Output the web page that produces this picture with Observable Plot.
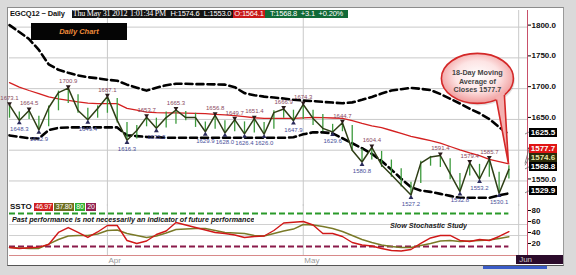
<!DOCTYPE html>
<html><head><meta charset="utf-8">
<script src="https://cdn.jsdelivr.net/npm/d3@7"></script>
<script src="https://cdn.jsdelivr.net/npm/@observablehq/plot@0.6"></script>
<style>
html,body{margin:0;padding:0;background:#fff;}
#wrap{position:relative;width:576px;height:275px;overflow:hidden;background:#dadada;font-family:"Liberation Sans",Arial,sans-serif;}
#inner{position:absolute;left:7px;top:7px;width:555px;height:257px;background:#fff;border-left:1px solid #8c8c8c;border-top:1px solid #8c8c8c;border-right:1px solid #9a9a9a;border-bottom:1px solid #555;}
#wrap svg{position:absolute;left:0;overflow:visible;}
.ov{position:absolute;white-space:nowrap;overflow:hidden;}
.box{display:inline-block;height:8px;line-height:8px;font-size:7.5px;text-align:center;color:#fff;overflow:hidden;vertical-align:top;letter-spacing:-0.2px;}
</style></head><body><div id="wrap"><div id="inner"></div></div>
<script>
// ---- data ----
const highVals = [1673.1,1662,1664.5,1655,1672,1696,1700.9,1690,1668,1672,
 1687.1,1684,1645,1640,1653.7,1652,1662,1665.3,1663,1660,
 1646,1656.8,1648,1649.7,1646,1651.4,1645,1664,1666.9,1665,
 1674.3,1665,1658,1642,1644.7,1640,1602,1604.4,1598,1584,
 1570,1548,1582,1590,1591.4,1586,1562,1579.4,1577,1585.7,
 1564,1574.6];
const lowVals = [1652,1648.3,1650,1632.9,1638,1664,1676,1660,1649.4,1652,
 1660,1644,1616.3,1618,1638,1635.5,1636,1642,1648,1637,
 1629.9,1634,1628,1630,1626.4,1628,1626.0,1634,1652,1647.9,
 1650,1640,1630,1629.6,1630,1598,1580.8,1584,1572,1556,
 1540,1527.2,1546,1574,1572,1552,1532.8,1558,1553.2,1556,
 1530.1,1553.0];
const closeVals = [1673.1,1648.3,1664.5,1632.9,1669,1693.5,1700.9,1664.5,1649.4,1667.7,
 1687.1,1648.4,1616.3,1632,1653.7,1635.5,1653,1665.3,1653,1653,
 1629.9,1656.8,1628,1649.7,1626.4,1651.4,1626.0,1661,1666.9,1647.9,
 1674.3,1651.6,1635.5,1629.6,1644.7,1600,1580.8,1604.4,1576,1560,
 1543.5,1527.2,1579,1589,1591.4,1562,1532.8,1579.4,1553.2,1585.7,
 1530.1,1568.8];
const ma18 = [1709.7,1702.5,1697,1692,1686.5,1683.5,1681,1678.5,1676.5,1675.8,
 1675.8,1675.8,1668,1665,1662,1661,1660.8,1660.5,1660.2,1659.8,
 1659.4,1658.3,1657.3,1656.3,1654.5,1652.7,1651.6,1651.6,1651.6,1651.8,
 1652.5,1653.2,1653,1652.3,1651.7,1648,1643.5,1639.5,1636.5,1632,
 1627.5,1622.5,1619,1615.5,1611.5,1606,1600.5,1595.5,1591,1585,
 1581.5,1577.7];
const upperBand = [1803.2,1792,1780.6,1762.9,1739.5,1730.6,1725.8,1721.5,1718.5,1716.8,
 1714.5,1712.9,1706.5,1701.6,1696.8,1701.6,1705.6,1708,1708,1707.3,
 1707.3,1707,1706.5,1702.4,1692.7,1689.4,1687,1685.5,1683.9,1681.9,
 1680.6,1679.7,1678.5,1677.4,1676.3,1677.7,1681.8,1686.6,1692,1697,
 1699,1701.3,1699.7,1697.6,1691.3,1683.5,1675.8,1667.4,1660,1650.6,
 1637.4,1625.5];
const lowerBand = [1624,1621.6,1619.4,1619,1632.7,1636.3,1637,1637,1637,1637,
 1637,1637,1624.2,1622.9,1621.5,1621,1620.2,1620.2,1620.2,1620.2,
 1620.2,1620.2,1620.2,1620.2,1620.2,1620.2,1620.2,1620.2,1620.2,1621,
 1625.8,1629,1629,1627.4,1619.4,1611.3,1603.2,1594.2,1582.3,1568.5,
 1553.7,1540,1534.5,1532.3,1529,1525.8,1522.6,1522.6,1522.6,1522.6,
 1526.6,1529.9];
const stochK = [18.2,16.4,17.6,18.9,23.6,45.5,54.5,45.5,36.4,46.4,
 58.2,58.2,30.9,25.5,30,41.8,48.2,63.6,59.1,54.5,
 50,45.5,43.6,40.9,36.4,38.2,39.1,49.1,62.7,64.2,
 65.5,59.1,43.6,43.6,38.2,27.3,22.7,20.9,16.4,12.7,
 11.8,14.5,25.5,35.5,40,40,30.9,29.1,32.7,30.9,
 38.2,46.97];
const stochD = [18.2,17.3,16.4,16.4,24.5,32.7,39.1,40,40,42.7,
 49.1,50,43.6,40,36.4,39.1,44.5,50.9,51.8,52.7,
 52.7,49.1,45.5,44.5,43.6,40,39.1,43.6,48.2,51.8,
 60,59.1,56.4,52.7,47.3,40,32.7,27.3,22.7,20,
 18.2,18.2,21.8,25.5,30,30.9,29.1,30,30.9,31.8,
 34.5,37.8];
const highPivots = [0,2,6,10,14,17,21,23,25,28,30,34,37,44,47,49];
const lowPivots = [1,3,8,12,15,20,22,24,26,29,33,36,41,46,48,50];
const monthTicks = [10, 30, 52];
const monthNames = ["Apr", "May", "Jun"];
const priceTicks = [1550, 1600, 1650, 1700, 1750, 1800];
const stochTicks = [20, 40, 60, 80];
const stochGrid = [40, 60];
const stochLevels = [80, 20];
const symbolText = "EGCQ12 ~ Daily";
const quoteDate = "Thu May 31 2012";
const quoteTime = "1:01:34 PM";
const quoteOpen = 1564.1;
const quoteChange = 3.1;
const quotePct = 0.20;
const maPeriod = 18;

// ---- build ----
const rows = closeVals.map((c, i) => ({i, close: c, high: highVals[i], low: lowVals[i], ma: ma18[i], ub: upperBand[i], lb: lowerBand[i], k: stochK[i], d: stochD[i]}));
const last = rows.length - 1;
const xDomain = [0, 52.9];
const fmt = d3.format(".1f");
const wrap = document.getElementById("wrap");
const font = "Liberation Sans, Arial, sans-serif";

const priceTop = 10;
const price = Plot.plot({
  width: 576, height: 196, marginTop: 0, marginBottom: 0, marginLeft: 9, marginRight: 49,
  x: {domain: xDomain, axis: null},
  y: {domain: [1508.5, 1827], axis: null},
  style: {background: "transparent", fontFamily: font},
  marks: [
    Plot.gridY(priceTicks, {stroke: "#c9c9c9", strokeOpacity: 1}),
    Plot.gridX(monthTicks, {stroke: "#c9c9c9", strokeOpacity: 1}),
    Plot.ruleX([xDomain[1]], {stroke: "#c8506a", strokeWidth: 1}),
    Plot.axisY(priceTicks, {anchor: "right", tickSize: 3, tickPadding: 1, tickFormat: fmt, fontSize: 8, fontWeight: "bold", fill: "#111", dy: -2, label: null}),
    Plot.line(rows, {x: "i", y: "ub", stroke: "#000", strokeWidth: 2.6, strokeDasharray: "7,4"}),
    Plot.line(rows, {x: "i", y: "lb", stroke: "#000", strokeWidth: 2.6, strokeDasharray: "7,4"}),
    Plot.line(rows, {x: "i", y: "ma", stroke: "#d42020", strokeWidth: 1.3}),
    Plot.ruleX(rows, {x: "i", y1: "low", y2: "high", stroke: "#3c9a3c", strokeWidth: 1.3}),
    Plot.line(rows, {x: "i", y: "close", stroke: "#2f3e16", strokeWidth: 1.5}),
    Plot.dot(highPivots, {x: d => d, y: d => highVals[d], symbol: "triangle", rotate: 180, r: 1.8, fill: "#2a1a1a", dy: -1.5}),
    Plot.dot(lowPivots, {x: d => d, y: d => lowVals[d], symbol: "triangle", r: 1.8, fill: "#2a2a5a", dy: 2.5}),
    Plot.text(highPivots, {x: d => d, y: d => highVals[d], text: d => fmt(highVals[d]), dy: -7, fontSize: 6, fill: "#8a4a62"}),
    Plot.text(lowPivots, {x: d => d, y: d => lowVals[d], text: d => fmt(lowVals[d]), dy: 9, fontSize: 6, fill: "#4a4f9a"})
  ]
});
price.style.top = priceTop + "px";
wrap.appendChild(price);

const stochTop = 204;
const stoch = Plot.plot({
  width: 576, height: 64, marginTop: 0, marginBottom: 13, marginLeft: 9, marginRight: 49,
  x: {domain: xDomain, axis: null},
  y: {domain: [3.6, 96.4], axis: null},
  style: {background: "transparent", fontFamily: font},
  marks: [
    Plot.gridY(stochGrid, {stroke: "#d0d0d0", strokeOpacity: 1}),
    Plot.gridX(monthTicks, {stroke: "#c9c9c9", strokeOpacity: 1}),
    Plot.ruleX([xDomain[1]], {stroke: "#c8506a", strokeWidth: 1}),
    Plot.ruleY([3.6], {stroke: "#d88a8a", strokeWidth: 1}),
    Plot.axisY(stochTicks, {anchor: "right", tickSize: 3, tickPadding: 1, fontSize: 8, fontWeight: "bold", fill: "#111", dy: -3, label: null}),
    Plot.axisX(monthTicks.slice(0, 2), {anchor: "bottom", tickSize: 0, tickPadding: 2, tickFormat: d => monthNames[monthTicks.indexOf(d)], textAnchor: "start", dx: 1, fill: "#9a9a9a", fontSize: 8, label: null}),
    Plot.ruleY([stochLevels[0]], {x1: 0, x2: last, stroke: "#2a9a2a", strokeWidth: 2, strokeDasharray: "6,3"}),
    Plot.ruleY([stochLevels[1]], {x1: 0, x2: last, stroke: "#8a1a4a", strokeWidth: 2, strokeDasharray: "6,3"}),
    Plot.line(rows, {x: "i", y: "d", stroke: "#7a7a28", strokeWidth: 1.4}),
    Plot.line(rows, {x: "i", y: "k", stroke: "#d01818", strokeWidth: 1.4})
  ]
});
stoch.style.top = stochTop + "px";
wrap.appendChild(stoch);

const px = v => price.scale("x").apply(v);
const py = v => price.scale("y").apply(v) + priceTop;

// ---- overlays ----
function div(cls, css, html) { const e = document.createElement("div"); e.className = cls; Object.assign(e.style, css); if (html != null) e.innerHTML = html; wrap.appendChild(e); return e; }

// header
const hdr = div("ov", {left: "10px", top: "10px", height: "9px", fontSize: "8px"});
const hs = (txt, w, bg, extra) => `<span class="box" style="width:${w}px;background:${bg};${extra||""}">${txt}</span>`;
hdr.innerHTML =
  `<span style="display:inline-block;width:62px;font-weight:bold;font-size:7.5px;letter-spacing:-0.15px;line-height:8px;color:#111;vertical-align:top">${symbolText}</span>` +
  hs(quoteDate, 56, "#141414", "font-family:'Liberation Serif',serif;font-size:8px") +
  hs(quoteTime, 40, "#141414", "font-family:'Liberation Serif',serif;font-size:8px") +
  hs("H:" + fmt(highVals[last]), 34, "#141414") +
  hs("L:" + fmt(lowVals[last]), 31, "#141414") +
  hs("O:" + fmt(quoteOpen), 32, "#c81818") +
  hs("T:" + fmt(closeVals[last]) + "&nbsp;&nbsp;+" + fmt(quoteChange) + "&nbsp;&nbsp;+" + quotePct.toFixed(2) + "%", 83, "#116a38");

// Daily chart box
div("ov", {left: "31px", top: "23px", width: "96px", height: "17px", background: "#050505", color: "#ef8a3a", fontWeight: "bold", fontStyle: "italic", fontSize: "7.5px", lineHeight: "17px", textAlign: "center"}, "Daily Chart");

// SSTO
const ss = div("ov", {left: "10px", top: "203px", height: "9px"});
ss.innerHTML = `<span style="display:inline-block;width:24px;font-weight:bold;font-size:8px;line-height:8px;color:#111;vertical-align:top">SSTO</span>` +
  hs(stochK[last].toFixed(2), 19, "#d02020", "font-size:7px") + `<span style="display:inline-block;width:1px"></span>` +
  hs(stochD[last].toFixed(2), 20, "#6e6e1e", "font-size:7px") + `<span style="display:inline-block;width:1px"></span>` +
  hs(String(stochLevels[0]), 10, "#30b030", "font-size:7px") + `<span style="display:inline-block;width:1px"></span>` +
  hs(String(stochLevels[1]), 10, "#902050", "font-size:7px");

div("ov", {left: "12px", top: "215px", fontSize: "7.2px", fontWeight: "bold", fontStyle: "italic", color: "#111"}, "Past performance is not necessarily an indicator of future performance");
div("ov", {left: "390px", top: "221px", fontSize: "7.2px", fontWeight: "bold", fontStyle: "italic", color: "#222"}, "Slow Stochastic Study");

// Jun box
const junX = px(monthTicks[2]);
div("ov", {left: (junX - 2) + "px", top: "255px", width: (563 - junX + 2) + "px", height: "9px", background: "#2b0b2b", color: "#c8c8c8", fontSize: "8px", lineHeight: "9px", paddingLeft: "3px", boxSizing: "border-box"}, monthNames[2]);

// bottom scrollbar
div("ov", {left: "483px", top: "266px", width: "64px", height: "3px", background: "#3a5cc8"});

// value boxes on right axis
const vboxes = [
  {v: upperBand[last], bg: "#000", fg: "#fff"},
  {v: ma18[last], bg: "#e01414", fg: "#fff"},
  {v: highVals[last], bg: "#2c2c0a", fg: "#e8e8a8"},
  {v: closeVals[last], bg: "#000", fg: "#fff"},
  {v: lowerBand[last], bg: "#000", fg: "#fff"}
].sort((a, b) => a.v - b.v);
let prevY = Infinity;
const ov = d3.select(wrap).append("svg").attr("width", 576).attr("height", 275).style("top", "0px").style("pointer-events", "none");
const axisX = px(xDomain[1]);
for (const b of vboxes) {
  b.ty = py(b.v);
  b.y = Math.min(b.ty, prevY - 9);
  prevY = b.y;
  const yc = b.y - 2;
  ov.append("line").attr("x1", axisX - 2).attr("y1", b.ty).attr("x2", axisX + 2).attr("y2", yc).attr("stroke", "#666").attr("stroke-width", 0.8);
  div("ov", {left: (axisX + 2) + "px", top: (yc - 4.5) + "px", width: "28px", height: "9px", background: b.bg, color: b.fg, fontSize: "8px", fontWeight: "bold", lineHeight: "9px", textAlign: "center"}, fmt(b.v));
}

// callout bubble
const tipX = px(last), tipY = py(ma18[last]);
const cx = tipX - 31, cy = tipY - 85, rx = 36, ry = 25;
const defs = ov.append("defs");
const g = defs.append("radialGradient").attr("id", "bub").attr("cx", "50%").attr("cy", "45%").attr("r", "55%");
g.append("stop").attr("offset", "0%").attr("stop-color", "#ffffff");
g.append("stop").attr("offset", "55%").attr("stop-color", "#fde4e4");
g.append("stop").attr("offset", "100%").attr("stop-color", "#f09a9a");
const a1 = Math.acos(19 / rx), a2 = Math.acos(27 / rx);
const b1 = [cx + rx * Math.cos(a1), cy + ry * Math.sin(a1)], b2 = [cx + rx * Math.cos(a2), cy + ry * Math.sin(a2)];
ov.append("ellipse").attr("cx", cx + 1.5).attr("cy", cy + 2).attr("rx", rx).attr("ry", ry).attr("fill", "#000").attr("opacity", 0.12);
ov.append("ellipse").attr("cx", cx).attr("cy", cy).attr("rx", rx).attr("ry", ry).attr("fill", "url(#bub)").attr("stroke", "#d42828").attr("stroke-width", 1.6);
ov.append("path").attr("d", `M${b1[0] - 1},${b1[1] - 3}L${tipX},${tipY}L${b2[0]},${b2[1] - 3}Z`).attr("fill", "#f4b0b0");
ov.append("path").attr("d", `M${b1[0]},${b1[1]}L${tipX},${tipY}L${b2[0]},${b2[1]}`).attr("fill", "none").attr("stroke", "#d42828").attr("stroke-width", 1.6);
const bt = ov.append("text").attr("text-anchor", "middle").attr("font-family", font).attr("font-weight", "bold").attr("font-size", 7.2).attr("fill", "#444");
[["" + maPeriod + "-Day Moving", -5], ["Average of", 3.5], ["Closes " + fmt(ma18[last]), 12]].forEach(([t, dy]) => {
  bt.append("tspan").attr("x", cx).attr("y", cy + dy).attr("dominant-baseline", "middle").text(t);
});
</script></body></html>
